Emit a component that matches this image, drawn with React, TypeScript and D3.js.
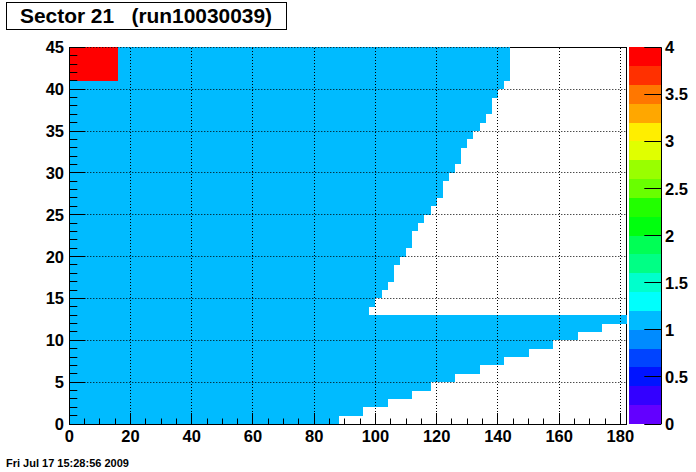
import React from "react";
import * as d3 from "d3";

// ---- data ----
// right edge (x) of the filled region for each y bin 0..44 (bin width 1)
const rowExtent = [
  88, 96, 104, 112, 118, 126, 134, 142, 150, 158,
  166, 174, 182, 98, 100, 102, 104, 106, 106, 108,
  110, 112, 112, 114, 116, 118, 120, 122, 122, 124,
  126, 128, 128, 130, 132, 134, 136, 138, 138, 140,
  142, 144, 144, 144, 144,
];
const baseValue = 1;
const hotValue = 4;
const hotX = [0, 16];
const hotY = [41, 45];

const xTicks = [0, 20, 40, 60, 80, 100, 120, 140, 160, 180];
const yTicks = [0, 5, 10, 15, 20, 25, 30, 35, 40, 45];
const zTicks = [0, 0.5, 1, 1.5, 2, 2.5, 3, 3.5, 4];
const zTickLabels = ["0", "0.5", "1", "1.5", "2", "2.5", "3", "3.5", "4"];

const titleText = "Sector 21   (run10030039)";
const dateText = "Fri Jul 17 15:28:56 2009";

// ROOT pretty palette, 20 contour levels (0..4)
const palette = [
  "#6300ff", "#3300ff", "#0014ff", "#0044ff", "#008bff",
  "#00bbff", "#00fffc", "#00ffcc", "#00ff85", "#00ff55",
  "#00ff0e", "#22ff00", "#69ff00", "#99ff00", "#e0ff00",
  "#ffee00", "#ffa700", "#ff7700", "#ff3000", "#ff0000",
];

const W = 696;
const H = 472;
const X0 = 69.3;
const X1 = 626.5;
const Y0 = 424;
const Y1 = 47.3;
const CB0 = 629.3;
const CB1 = 661.3;
const FONT = "'Liberation Sans', Arial, Helvetica, sans-serif";

const px = (v: number) => Math.floor(v) + 0.5;

export default function App() {
  const x = d3.scaleLinear().domain([0, 182]).range([X0, X1]);
  const y = d3.scaleLinear().domain([0, 45]).range([Y0, Y1]);
  const z = d3.scaleLinear().domain([0, 4]).range([Y0, Y1]);
  const nLev = palette.length;
  const colorOf = (v: number) =>
    palette[Math.max(0, Math.min(nLev - 1, Math.floor((v / 4) * nLev)))];

  // build row segments
  const segs: { x0: number; x1: number; r: number; v: number }[] = [];
  rowExtent.forEach((ext, r) => {
    if (r >= hotY[0] && r < hotY[1]) {
      segs.push({ x0: hotX[0], x1: hotX[1], r, v: hotValue });
      segs.push({ x0: hotX[1], x1: ext, r, v: baseValue });
    } else {
      segs.push({ x0: 0, x1: ext, r, v: baseValue });
    }
  });

  const xMinor = d3.range(0, 182, 5).filter((t) => t % 20 !== 0);
  const yMinor = d3.range(0, 46, 1).filter((t) => t % 5 !== 0);
  const levels = d3.range(nLev);

  return (
    <svg
      width={W}
      height={H}
      style={{ position: "absolute", left: 0, top: 0, background: "#fff" }}
      fontFamily={FONT}
    >
      <rect x={0} y={0} width={W} height={H} fill="#fff" />

      {/* title */}
      <rect x={6.5} y={2.5} width={280} height={27} fill="#fff" stroke="#000" strokeWidth={1} />
      <text
        x={20}
        y={23}
        fontSize={20}
        fontWeight={700}
        textLength={252}
        lengthAdjust="spacingAndGlyphs"
        style={{ whiteSpace: "pre" }}
        xmlSpace="preserve"
      >
        {titleText}
      </text>

      {/* frame */}
      <rect
        x={px(X0)}
        y={px(Y1)}
        width={Math.round(X1 - X0)}
        height={Math.round(Y0 - Y1)}
        fill="#fff"
        stroke="#000"
        strokeWidth={1}
      />

      {/* cells */}
      <g shapeRendering="crispEdges">
        {segs.map((s, i) => (
          <rect
            key={i}
            x={x(s.x0)}
            y={y(s.r + 1)}
            width={x(s.x1) - x(s.x0)}
            height={y(s.r) - y(s.r + 1)}
            fill={colorOf(s.v)}
          />
        ))}
      </g>

      {/* grid */}
      <g stroke="#000" strokeWidth={1} strokeDasharray="1,2">
        {xTicks
          .filter((t) => t > 0)
          .map((t) => (
            <line key={"gx" + t} x1={px(x(t))} x2={px(x(t))} y1={Y0} y2={Y1} />
          ))}
        {yTicks
          .filter((t) => t > 0)
          .map((t) => (
            <line key={"gy" + t} x1={X0} x2={X1} y1={px(y(t))} y2={px(y(t))} />
          ))}
      </g>

      {/* axes */}
      <g stroke="#000" strokeWidth={1}>
        <line x1={px(X0)} x2={px(X0)} y1={Y1} y2={Y0 + 0.5} />
        <line x1={X0} x2={X1} y1={px(Y0)} y2={px(Y0)} />
        {yTicks.map((t) => (
          <line key={"yt" + t} x1={X0} x2={X0 + 16} y1={px(y(t))} y2={px(y(t))} />
        ))}
        {yMinor.map((t) => (
          <line key={"ym" + t} x1={X0} x2={X0 + 8} y1={px(y(t))} y2={px(y(t))} />
        ))}
        {xTicks.map((t) => (
          <line key={"xt" + t} x1={px(x(t))} x2={px(x(t))} y1={Y0} y2={Y0 - 11} />
        ))}
        {xMinor.map((t) => (
          <line key={"xm" + t} x1={px(x(t))} x2={px(x(t))} y1={Y0} y2={Y0 - 5.5} />
        ))}
      </g>

      {/* axis labels */}
      <g fontSize={16.5} fontWeight={700} fill="#000">
        {xTicks.map((t) => (
          <text key={"xl" + t} x={x(t)} y={Y0 + 17.5} textAnchor="middle">
            {t}
          </text>
        ))}
        {yTicks.map((t) => (
          <text key={"yl" + t} x={64} y={y(t) + 6} textAnchor="end">
            {t}
          </text>
        ))}
      </g>

      {/* color bar */}
      <g shapeRendering="crispEdges">
        {levels.map((k) => (
          <rect
            key={"cb" + k}
            x={CB0}
            y={z(((k + 1) * 4) / nLev)}
            width={CB1 - CB0}
            height={z((k * 4) / nLev) - z(((k + 1) * 4) / nLev)}
            fill={palette[k]}
          />
        ))}
      </g>
      <g stroke="#000" strokeWidth={1}>
        <line x1={px(CB1)} x2={px(CB1)} y1={Y1} y2={Y0} />
        {zTicks.map((t) => (
          <line key={"zt" + t} x1={CB1 - 17} x2={CB1} y1={px(z(t))} y2={px(z(t))} />
        ))}
      </g>
      <g fontSize={16.5} fontWeight={700} fill="#000">
        {zTicks.map((t, i) => (
          <text key={"zl" + t} x={665} y={z(t) + 6} textAnchor="start">
            {zTickLabels[i]}
          </text>
        ))}
      </g>

      {/* date */}
      <text x={6} y={467} fontSize={11} fontWeight={700} fill="#000">
        {dateText}
      </text>
    </svg>
  );
}
